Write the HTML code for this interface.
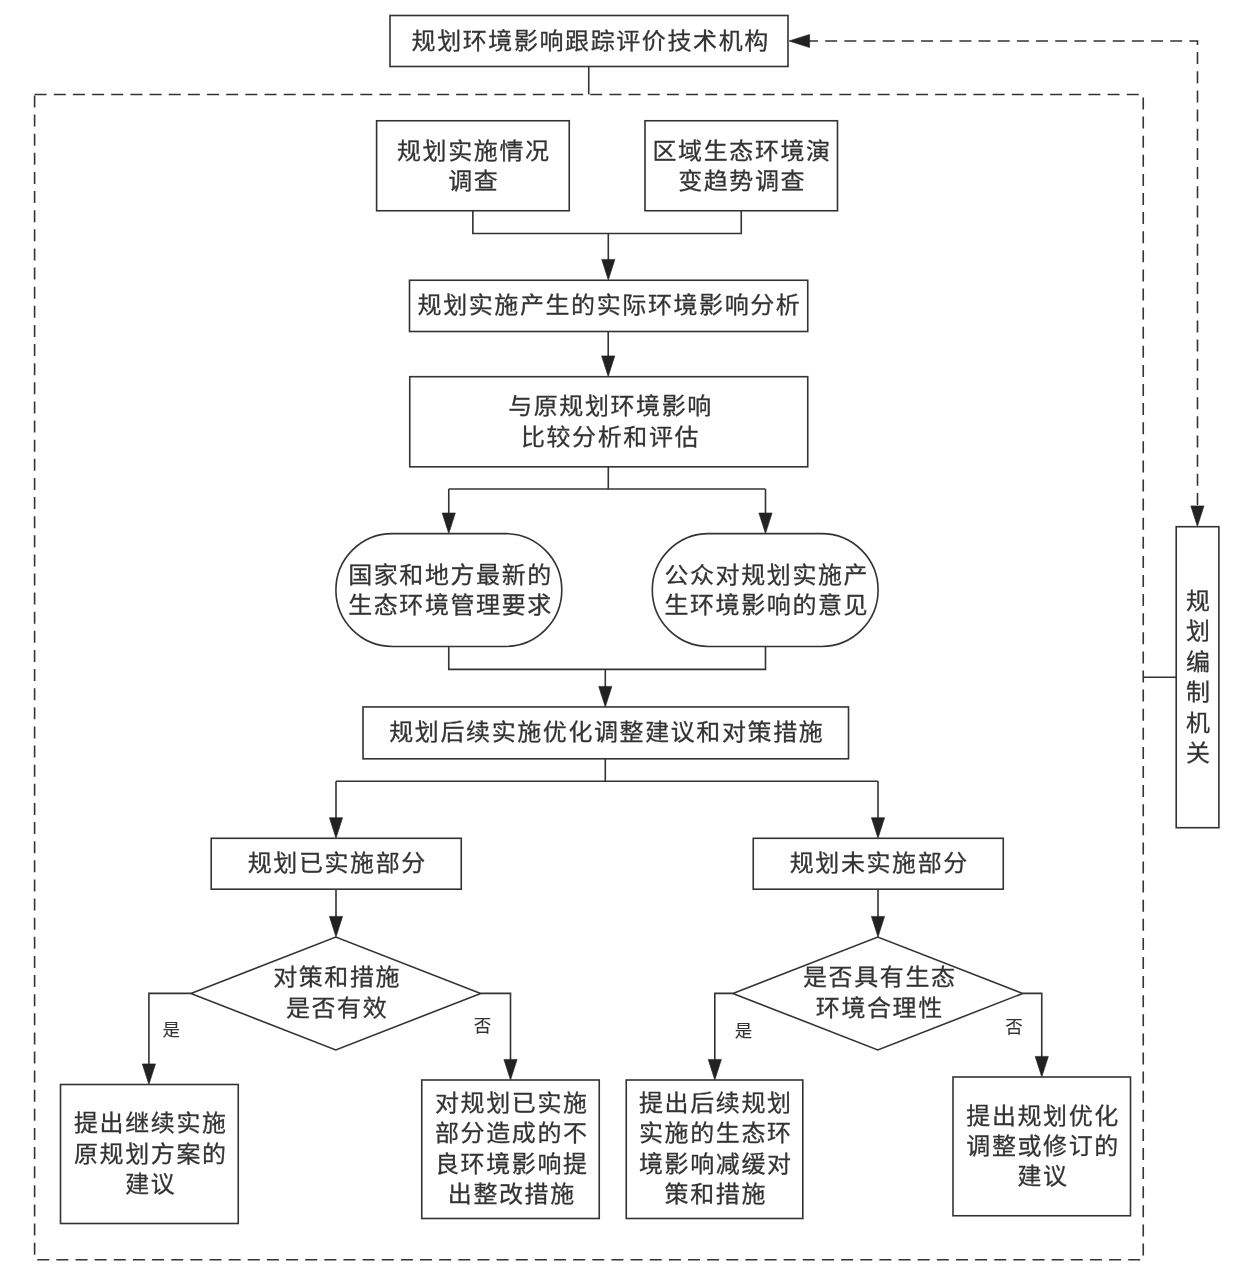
<!DOCTYPE html>
<html lang="zh-CN">
<head>
<meta charset="utf-8">
<title>规划环境影响跟踪评价流程图</title>
<style>
html,body{margin:0;padding:0;background:#fff;}
body{width:1248px;height:1274px;overflow:hidden;}
svg{display:block;}
svg rect, svg path, svg polygon{fill:none;stroke:#333;stroke-width:1.6;}
svg .ah{fill:#222;stroke:#222;stroke-width:0.6;}
svg .dash{stroke-dasharray:12 7.14;}
svg text{font-family:"Liberation Sans", "Noto Sans CJK SC", sans-serif;fill:#333;stroke:#333;stroke-width:0.28px;text-anchor:middle;}
svg .t{font-size:24px;letter-spacing:1.6px;}
svg .s{font-size:17.5px;stroke-width:0.1px;}
svg{will-change:transform;}
</style>
</head>
<body>
<svg width="1248" height="1274" viewBox="0 0 1248 1274">
<rect x="0" y="0" width="1248" height="1274" style="fill:#fff;stroke:none"/>
<g>
<rect x="390" y="15.5" width="398" height="51"/>
<path d="M588.75 66.5 L588.75 94.5"/>
<path class="dash" d="M34.6 94.5 H1143.25" style="stroke-dasharray:12 7.16"/>
<path class="dash" d="M1143.25 94.5 V1259.75" style="stroke-dasharray:12 7.1;stroke-dashoffset:16.1"/>
<path class="dash" d="M34.6 1259.75 H1143.25" style="stroke-dashoffset:16.5"/>
<path class="dash" d="M34.6 94.5 V1259.75" style="stroke-dasharray:12 7.12;stroke-dashoffset:18.12"/>
<path class="dash" d="M806 41 L1197.5 41 L1197.5 505" style="stroke-dasharray:12 7.17"/>
<polygon class="ah" points="809.6,34.4 809.6,47.6 789,41"/>
<polygon class="ah" points="1190.8,505.9 1204,505.9 1197.4,526.5"/>
<rect x="376.6" y="120.75" width="192.65" height="90"/>
<rect x="645" y="120.75" width="192.5" height="90"/>
<path d="M472.85 210.75 L472.85 233.5 L741.25 233.5 L741.25 210.75"/>
<path d="M608.3 233.5 L608.3 260.4"/>
<polygon class="ah" points="601.7,259.4 614.9,259.4 608.3,280"/>
<rect x="409.5" y="280.25" width="398.25" height="51.25"/>
<path d="M608.2 331.5 L608.2 356.9"/>
<polygon class="ah" points="601.6,355.9 614.8,355.9 608.2,376.5"/>
<rect x="409.75" y="376.7" width="398" height="90.1"/>
<path d="M608.3 466.8 L608.3 489.05"/>
<path d="M448.75 489.05 L765.5 489.05"/>
<path d="M448.75 489.05 L448.75 514.0"/>
<polygon class="ah" points="442.15,513 455.35,513 448.75,533.6"/>
<path d="M765.5 489.05 L765.5 514.0"/>
<polygon class="ah" points="758.9,513 772.1,513 765.5,533.6"/>
<rect x="335.9" y="533.65" width="225.9" height="112.8" rx="56.4" ry="56.4"/>
<rect x="652.3" y="533.65" width="225.8" height="112.8" rx="56.4" ry="56.4"/>
<path d="M448.75 646.45 L448.75 669.4 L765.5 669.4 L765.5 646.45"/>
<path d="M605.3 669.4 L605.3 687.4"/>
<polygon class="ah" points="598.7,686.4 611.9,686.4 605.3,707"/>
<rect x="363" y="706.95" width="485.5" height="51.85"/>
<path d="M605.3 758.8 L605.3 781.3"/>
<path d="M336 781.3 L878 781.3"/>
<path d="M336 781.3 L336 818.7"/>
<polygon class="ah" points="329.4,817.7 342.6,817.7 336,838.3"/>
<path d="M878 781.3 L878 818.7"/>
<polygon class="ah" points="871.4,817.7 884.6,817.7 878,838.3"/>
<rect x="211.2" y="838.3" width="250.05" height="50.9"/>
<rect x="753.25" y="838.3" width="250" height="50.9"/>
<path d="M336 889.25 L336 917.4"/>
<polygon class="ah" points="329.4,916.4 342.6,916.4 336,937"/>
<path d="M878 889.25 L878 917.4"/>
<polygon class="ah" points="871.4,916.4 884.6,916.4 878,937"/>
<polygon points="190.9,993.4 335.8,937 480.7,993.4 335.8,1050"/>
<polygon points="732.9,993.4 877.8,937 1022.7,993.4 877.8,1050"/>
<path d="M190.9 993.4 L148.9 993.4 L148.9 1065"/>
<polygon class="ah" points="142.3,1063.9 155.5,1063.9 148.9,1084.5"/>
<path d="M480.7 993.4 L510.5 993.4 L510.5 1061"/>
<polygon class="ah" points="503.9,1059.4 517.1,1059.4 510.5,1080"/>
<path d="M732.9 993.4 L714.8 993.4 L714.8 1061"/>
<polygon class="ah" points="708.2,1059.4 721.4,1059.4 714.8,1080"/>
<path d="M1022.7 993.4 L1041.75 993.4 L1041.75 1058"/>
<polygon class="ah" points="1035.15,1056.4 1048.35,1056.4 1041.75,1077"/>
<rect x="60.5" y="1084.5" width="177.75" height="139"/>
<rect x="421.75" y="1080" width="177.5" height="138.5"/>
<rect x="626.25" y="1080" width="176.55" height="138.5"/>
<rect x="953" y="1077" width="177.5" height="138.75"/>
<rect x="1176.2" y="526.7" width="42.7" height="301"/>
<path d="M1143.25 677.2 L1176.2 677.2"/>
</g>
<g class="labels">
<text class="t" transform="translate(590.7 48.52) scale(1 0.94)">规划环境影响跟踪评价技术机构</text>
<text class="t" transform="translate(473.8 158.62) scale(1 0.94)">规划实施情况</text>
<text class="t" transform="translate(473.8 189.02) scale(1 0.94)">调查</text>
<text class="t" transform="translate(742.1 158.62) scale(1 0.94)">区域生态环境演</text>
<text class="t" transform="translate(742.1 189.02) scale(1 0.94)">变趋势调查</text>
<text class="t" transform="translate(609.5 313.32) scale(1 0.94)">规划实施产生的实际环境影响分析</text>
<text class="t" transform="translate(610.5 414.12) scale(1 0.94)">与原规划环境影响</text>
<text class="t" transform="translate(610.5 444.52) scale(1 0.94)">比较分析和评估</text>
<text class="t" transform="translate(450.5 582.92) scale(1 0.94)">国家和地方最新的</text>
<text class="t" transform="translate(450.5 613.32) scale(1 0.94)">生态环境管理要求</text>
<text class="t" transform="translate(766.8 582.92) scale(1 0.94)">公众对规划实施产</text>
<text class="t" transform="translate(766.8 613.32) scale(1 0.94)">生环境影响的意见</text>
<text class="t" transform="translate(606.8 739.82) scale(1 0.94)">规划后续实施优化调整建议和对策措施</text>
<text class="t" transform="translate(337.3 870.72) scale(1 0.94)">规划已实施部分</text>
<text class="t" transform="translate(879.3 870.72) scale(1 0.94)">规划未实施部分</text>
<text class="t" transform="translate(337.1 985.42) scale(1 0.94)">对策和措施</text>
<text class="t" transform="translate(337.1 1015.82) scale(1 0.94)">是否有效</text>
<text class="t" transform="translate(879.8 985.42) scale(1 0.94)">是否具有生态</text>
<text class="t" transform="translate(879.8 1015.82) scale(1 0.94)">环境合理性</text>
<text class="t" transform="translate(150.8 1131.12) scale(1 0.94)">提出继续实施</text>
<text class="t" transform="translate(150.8 1161.52) scale(1 0.94)">原规划方案的</text>
<text class="t" transform="translate(150.8 1191.92) scale(1 0.94)">建议</text>
<text class="t" transform="translate(511.8 1110.82) scale(1 0.94)">对规划已实施</text>
<text class="t" transform="translate(511.8 1141.22) scale(1 0.94)">部分造成的不</text>
<text class="t" transform="translate(511.8 1171.62) scale(1 0.94)">良环境影响提</text>
<text class="t" transform="translate(511.8 1202.02) scale(1 0.94)">出整改措施</text>
<text class="t" transform="translate(715.8 1110.82) scale(1 0.94)">提出后续规划</text>
<text class="t" transform="translate(715.8 1141.22) scale(1 0.94)">实施的生态环</text>
<text class="t" transform="translate(715.8 1171.62) scale(1 0.94)">境影响减缓对</text>
<text class="t" transform="translate(715.8 1202.02) scale(1 0.94)">策和措施</text>
<text class="t" transform="translate(1043.1 1123.52) scale(1 0.94)">提出规划优化</text>
<text class="t" transform="translate(1043.1 1153.92) scale(1 0.94)">调整或修订的</text>
<text class="t" transform="translate(1043.1 1184.32) scale(1 0.94)">建议</text>
<text class="t" transform="translate(1198.9 608.77) scale(1 0.94)">规</text>
<text class="t" transform="translate(1198.9 639.27) scale(1 0.94)">划</text>
<text class="t" transform="translate(1198.9 669.77) scale(1 0.94)">编</text>
<text class="t" transform="translate(1198.9 700.27) scale(1 0.94)">制</text>
<text class="t" transform="translate(1198.9 730.77) scale(1 0.94)">机</text>
<text class="t" transform="translate(1198.9 761.27) scale(1 0.94)">关</text>
<text class="s" transform="translate(171.2 1036.4) scale(1 1)">是</text>
<text class="s" transform="translate(482.4 1032) scale(1 1)">否</text>
<text class="s" transform="translate(743.4 1037.4) scale(1 1)">是</text>
<text class="s" transform="translate(1014.0 1033) scale(1 1)">否</text>
</g>
</svg>
</body>
</html>
